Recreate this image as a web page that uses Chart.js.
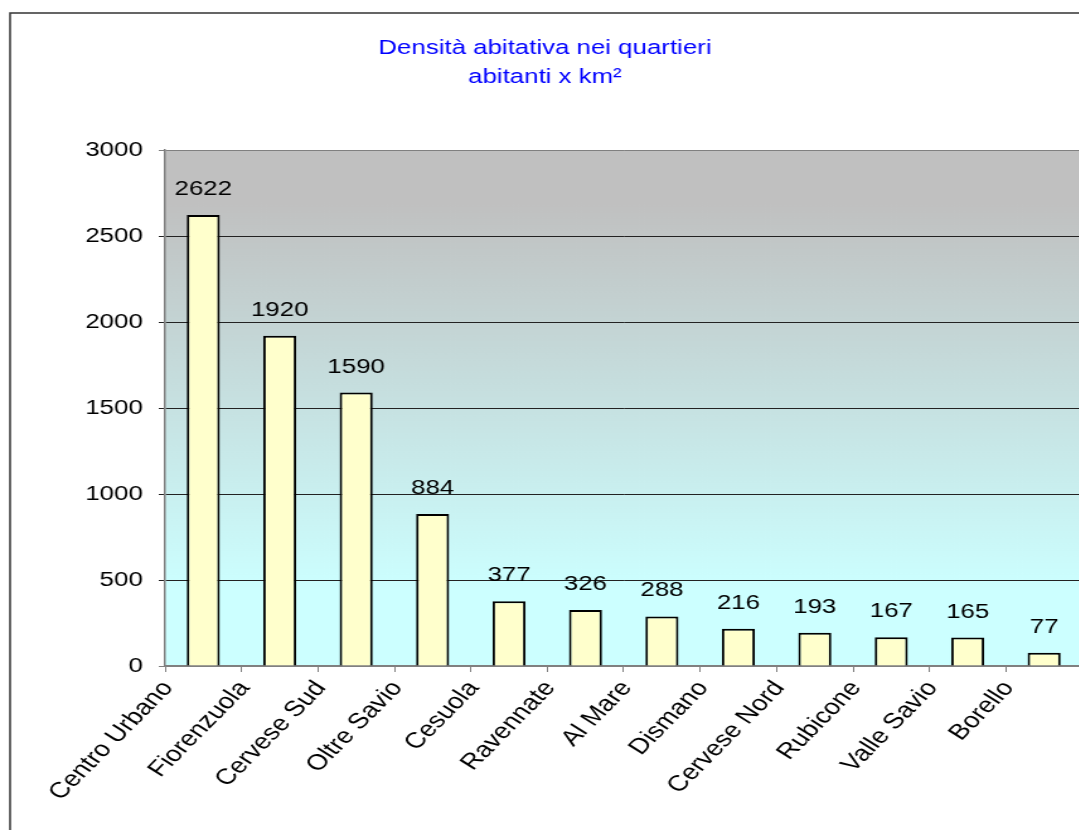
<!DOCTYPE html>
<html>
<head>
<meta charset="utf-8">
<title>Densità abitativa nei quartieri</title>
<script src="https://cdn.jsdelivr.net/npm/chart.js@4.4.1/dist/chart.umd.min.js"></script>
<style>
    html, body { margin: 0; padding: 0; background: #fff; overflow: hidden; }
    /* the original uses a wide Arial, so the whole drawing is stretched sideways */
    #wrap { width: 868px; height: 830px; transform: scaleX(1.26); transform-origin: 0 0; }
</style>
</head>
<body>
<div id="wrap"><canvas id="densityChart" width="868" height="830"></canvas></div>
<script>
// data
var quartieri = ['Centro Urbano', 'Fiorenzuola', 'Cervese Sud', 'Oltre Savio', 'Cesuola', 'Ravennate',
    'Al Mare', 'Dismano', 'Cervese Nord', 'Rubicone', 'Valle Savio', 'Borello'];
var abitantiKm2 = [2622, 1920, 1590, 884, 377, 326, 288, 216, 193, 167, 165, 77];
var yTicks = [0, 500, 1000, 1500, 2000, 2500, 3000];
var titleLines = ['Densità abitativa nei quartieri', 'abitanti x km²'];

var FONT = '"Liberation Sans", Arial, sans-serif';
Chart.defaults.font.family = FONT;
Chart.defaults.color = '#000';

// frame + gradient behind the plot
var chartBackground = {
    id: 'chartBackground',
    beforeDraw: function (chart) {
        var c = chart.ctx, a = chart.chartArea;
        c.save();
        c.fillStyle = '#fff';
        c.fillRect(0, 0, chart.width, chart.height);
        var g = c.createLinearGradient(0, a.top, 0, a.bottom);
        g.addColorStop(0, '#c0c0c0');
        g.addColorStop(0.1, '#c0c0c0');
        g.addColorStop(0.85, '#ccffff');
        g.addColorStop(1, '#ccffff');
        c.fillStyle = g;
        c.fillRect(a.left, a.top, a.right - a.left, a.bottom - a.top);
        c.strokeStyle = '#333';
        c.lineWidth = 1.5;
        c.strokeRect(8, 13, chart.width + 20, chart.height + 20);
        c.restore();
    }
};

// value above each bar
var valueLabels = {
    id: 'valueLabels',
    afterDatasetsDraw: function (chart) {
        var c = chart.ctx;
        var meta = chart.getDatasetMeta(0);
        c.save();
        c.font = '20.5px ' + FONT;
        c.fillStyle = '#000';
        c.textAlign = 'center';
        c.textBaseline = 'alphabetic';
        meta.data.forEach(function (bar, i) {
            c.fillText(String(abitantiKm2[i]), bar.x, bar.y - 20);
        });
        c.restore();
    }
};

function gridColor(ctx) {
    var v = ctx.tick ? ctx.tick.value : null;
    return (v === 0 || v === 3000) ? '#808080' : '#222';
}

var ctx = document.getElementById('densityChart').getContext('2d');
var densityChart = new Chart(ctx, {
    type: 'bar',
    data: {
        labels: quartieri,
        datasets: [{
            label: 'abitanti x km²',
            data: abitantiKm2,
            backgroundColor: '#ffffcc',
            borderColor: '#000',
            borderWidth: 2,
            barPercentage: 0.432,
            categoryPercentage: 1
        }]
    },
    options: {
        responsive: false,
        animation: false,
        devicePixelRatio: 1,
        layout: { padding: { left: 6, right: 9, top: 0, bottom: 0 } },
        plugins: {
            legend: { display: false },
            tooltip: { enabled: false },
            title: {
                display: true,
                text: titleLines,
                color: '#0000ff',
                font: { size: 20.5, weight: 'normal', lineHeight: 1.42 },
                padding: { top: 33.4, bottom: 58.4 }
            }
        },
        scales: {
            x: {
                grid: { drawOnChartArea: false, color: '#808080', tickLength: 6 },
                border: { color: '#808080', width: 1.5 },
                ticks: {
                    autoSkip: false,
                    minRotation: 51.56,
                    maxRotation: 51.56,
                    labelOffset: -28,
                    padding: 4,
                    font: { size: 22 }
                },
                afterFit: function (scale) { scale.height = 164; }
            },
            y: {
                min: 0,
                max: 3000,
                afterBuildTicks: function (scale) {
                    scale.ticks = yTicks.map(function (v) { return { value: v }; });
                },
                grid: { color: gridColor, tickColor: gridColor, tickLength: 5 },
                border: { color: '#808080', width: 1.5 },
                ticks: {
                    padding: 12.7,
                    font: { size: 20.5 },
                    callback: function (v) { return String(v); }
                },
                afterFit: function (scale) { scale.width = 125; }
            }
        }
    },
    plugins: [chartBackground, valueLabels]
});
</script>
</body>
</html>
